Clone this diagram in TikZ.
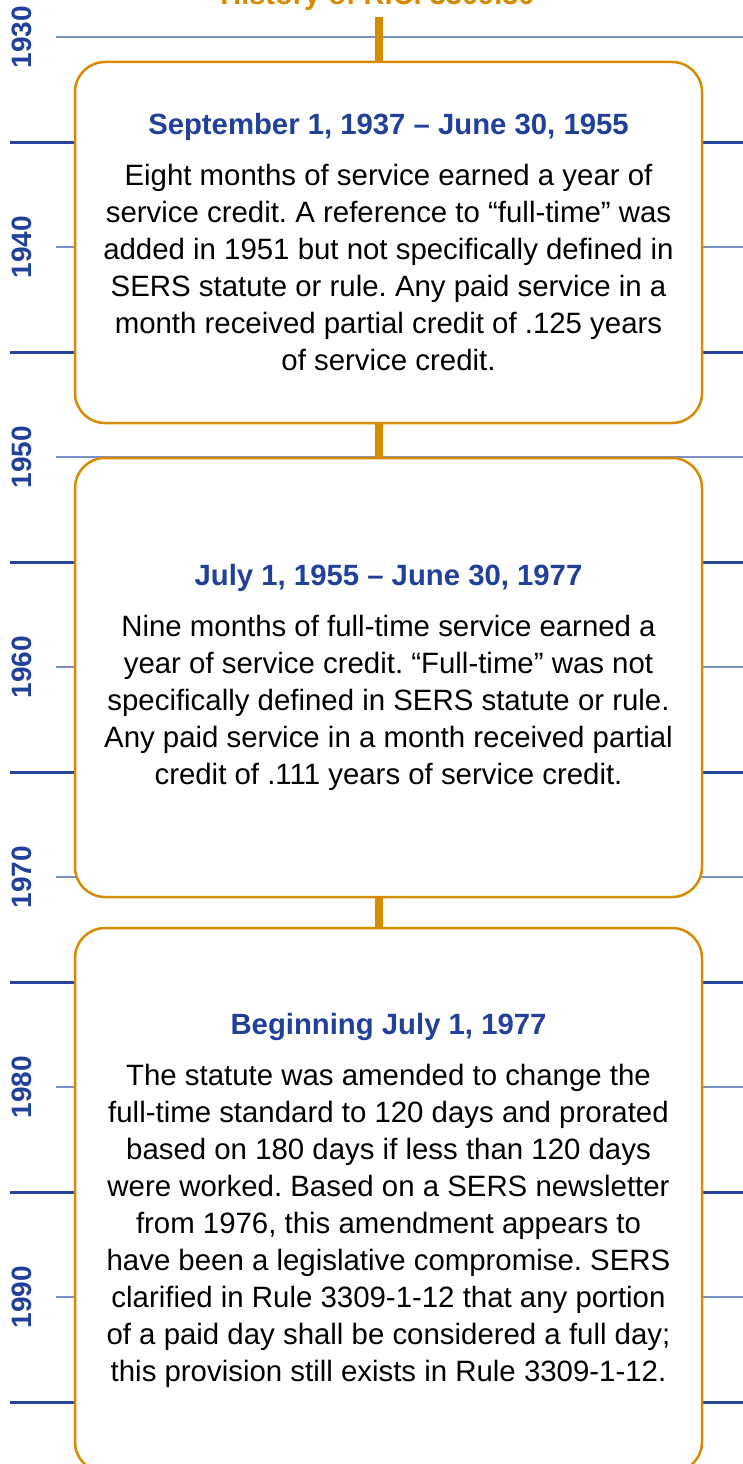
\documentclass[tikz,border=0pt]{standalone}
\usepackage{fontspec}
\setmainfont{Liberation Sans}
\definecolor{orng}{RGB}{214,139,0}
\definecolor{hblue}{RGB}{33,64,154}
\definecolor{lblue}{RGB}{125,145,200}
\definecolor{dblue}{RGB}{38,68,158}
\begin{document}
\frenchspacing
\begin{tikzpicture}[x=1pt,y=-1pt,
  yearlbl/.style={rotate=90, font=\bfseries\fontsize{28}{28}\selectfont, text=hblue, inner sep=0pt, anchor=center},
  minorline/.style={lblue, line width=1.2pt},
  majorline/.style={dblue, line width=3pt},
  periodbox/.style={draw=orng, line width=2.5pt, fill=white, rounded corners=30pt,
    minimum width=627pt, align=center, font=\frenchspacing\fontsize{29.4}{37}\selectfont, inner sep=0pt},
  bar/.style={orng, line width=8pt},
  titletxt/.style={font=\bfseries\fontsize{29}{29}\selectfont, text=orng, anchor=base, inner sep=0pt}
]
\useasboundingbox (0,0) rectangle (743,1464);
\fill[white] (0,0) rectangle (743,1464);
% scale lines
\foreach \k in {0,...,6} {
  \draw[minorline] (56,37+210*\k) -- (743,37+210*\k);
  \draw[majorline] (10,142+210*\k) -- (743,142+210*\k);
}
% year labels
\foreach \yr [count=\i from 0] in {1930,1940,1950,1960,1970,1980,1990} {
  \node[yearlbl] (yr\yr) at (21.5,37+210*\i) {\yr};
}
% title
\node[titletxt] (title) at (377.5,5) {History of R.C. 3309.30};
% period boxes
\node[periodbox, minimum height=361pt] (p1) at (388.5,242.5) {%
  {\color{hblue}\bfseries\fontsize{29.3}{37}\selectfont September 1, 1937 – June 30, 1955}\\[14pt]
  Eight months of service earned a year of\\
  service credit. A reference to “full-time” was\\
  added in 1951 but not specifically defined in\\
  SERS statute or rule. Any paid service in a\\
  month received partial credit of .125 years\\
  of service credit.};
\node[periodbox, minimum height=439pt] (p2) at (388.5,677.5) {%
  {\color{hblue}\bfseries\fontsize{29.3}{37}\selectfont July 1, 1955 – June 30, 1977}\\[14pt]
  Nine months of full-time service earned a\\
  year of service credit. “Full-time” was not\\
  specifically defined in SERS statute or rule.\\
  Any paid service in a month received partial\\
  credit of .111 years of service credit.};
\node[periodbox, minimum height=544pt] (p3) at (388.5,1200) {%
  {\color{hblue}\bfseries\fontsize{29.3}{37}\selectfont Beginning July 1, 1977}\\[14pt]
  The statute was amended to change the\\
  full-time standard to 120 days and prorated\\
  based on 180 days if less than 120 days\\
  were worked. Based on a SERS newsletter\\
  from 1976, this amendment appears to\\
  have been a legislative compromise. SERS\\
  clarified in Rule 3309-1-12 that any portion\\
  of a paid day shall be considered a full day;\\
  this provision still exists in Rule 3309-1-12.};
% connectors
\coordinate (barTop) at (379,17);
\draw[bar] (barTop) -- (barTop |- p1.north);
\draw[bar] (p1.south -| barTop) -- (p2.north -| barTop);
\draw[bar] (p2.south -| barTop) -- (p3.north -| barTop);
\end{tikzpicture}
\end{document}
